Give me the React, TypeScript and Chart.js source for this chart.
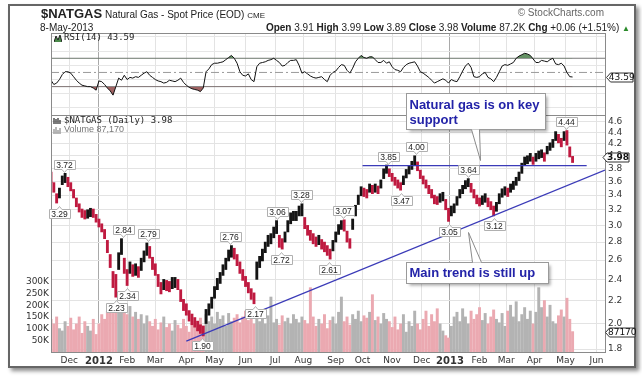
import React, { useEffect, useRef } from "react";
import { Chart, registerables } from "chart.js";

Chart.register(...registerables);

// ---------- X axis: trading-day index (0 = 1 Dec 2011) ----------
const FIRST_DAY = -13;
const DAY_STEP = 2;
const X_MIN = -13;
const X_MAX = 380;
const monthIdx = [0, 21, 41, 61, 83, 103, 125, 146, 166, 189, 208, 229, 250, 270, 291, 310, 330, 352, 374];
const monthLabels = ["Dec", "2012", "Feb", "Mar", "Apr", "May", "Jun", "Jul", "Aug", "Sep", "Oct", "Nov", "Dec", "2013", "Feb", "Mar", "Apr", "May", "Jun"];
const yearIdx = [21, 270];

// ---------- Y axes ----------
const priceTicks = [1.8, 2.0, 2.2, 2.4, 2.6, 2.8, 3.0, 3.2, 3.4, 3.6, 3.8, 4.0, 4.2, 4.4, 4.6];
const PRICE_MIN = 1.778;
const PRICE_MAX = 4.734;
const volTicks = [50000, 100000, 150000, 200000, 250000, 300000];
const VOL_MAX = 1013000;
const rsiGrid = [0, 10, 20, 30, 40, 50, 60, 70, 80, 90, 100];
const rsiLabelled = [10, 30, 50, 70, 90];
const RSI_MIN = -10;
const RSI_MAX = 105.6;

// ---------- Price bars [low, high], one per 2 trading days ----------
const priceBars = [
  [3.58, 3.74], [3.44, 3.58], [3.29, 3.42], [3.36, 3.50], [3.55, 3.68], [3.58, 3.72], [3.52, 3.66], [3.46, 3.58], [3.36, 3.48], [3.24, 3.36],
  [3.17, 3.28], [3.10, 3.21], [3.08, 3.19], [3.09, 3.20], [3.11, 3.22], [3.10, 3.21], [3.04, 3.14], [2.98, 3.08], [2.92, 3.02], [2.84, 2.95],
  [2.68, 2.82], [2.52, 2.66], [2.32, 2.48], [2.23, 2.45], [2.50, 2.68], [2.66, 2.84], [2.46, 2.62], [2.34, 2.50], [2.46, 2.58], [2.43, 2.55],
  [2.44, 2.56], [2.42, 2.53], [2.49, 2.62], [2.58, 2.70], [2.65, 2.79], [2.62, 2.75], [2.50, 2.63], [2.44, 2.56], [2.33, 2.45], [2.26, 2.37],
  [2.30, 2.40], [2.29, 2.39], [2.28, 2.38], [2.31, 2.42], [2.32, 2.42], [2.30, 2.40], [2.19, 2.30], [2.11, 2.21], [2.07, 2.17], [2.02, 2.11],
  [1.99, 2.08], [1.97, 2.05], [1.94, 2.02], [1.92, 1.99], [1.90, 1.98], [2.00, 2.12], [2.07, 2.17], [2.13, 2.23], [2.22, 2.33], [2.30, 2.41],
  [2.36, 2.47], [2.44, 2.55], [2.50, 2.62], [2.59, 2.71], [2.63, 2.76], [2.61, 2.73], [2.54, 2.66], [2.46, 2.58], [2.39, 2.50], [2.33, 2.43],
  [2.27, 2.37], [2.21, 2.31], [2.17, 2.27], [2.40, 2.58], [2.52, 2.64], [2.59, 2.72], [2.68, 2.80], [2.75, 2.88], [2.78, 2.90], [2.85, 2.98],
  [2.90, 3.06], [2.74, 2.88], [2.72, 2.84], [2.80, 2.92], [2.92, 3.06], [3.02, 3.16], [3.06, 3.18], [3.06, 3.18], [3.12, 3.25], [3.12, 3.28],
  [2.96, 3.10], [2.88, 3.00], [2.82, 2.94], [2.78, 2.90], [2.75, 2.86], [2.77, 2.88], [2.72, 2.83], [2.69, 2.80], [2.65, 2.76], [2.61, 2.72],
  [2.70, 2.82], [2.80, 2.92], [2.89, 3.01], [2.95, 3.06], [2.93, 3.07], [2.80, 2.93], [2.73, 2.84], [2.95, 3.08], [3.12, 3.26], [3.27, 3.40],
  [3.39, 3.52], [3.38, 3.50], [3.36, 3.48], [3.44, 3.56], [3.42, 3.54], [3.44, 3.56], [3.42, 3.53], [3.50, 3.62], [3.64, 3.79], [3.72, 3.85],
  [3.67, 3.79], [3.60, 3.72], [3.54, 3.66], [3.50, 3.62], [3.47, 3.58], [3.55, 3.68], [3.65, 3.78], [3.71, 3.84], [3.78, 3.91], [3.84, 4.00],
  [3.76, 3.90], [3.64, 3.77], [3.56, 3.68], [3.50, 3.62], [3.42, 3.54], [3.36, 3.48], [3.28, 3.40], [3.27, 3.38], [3.30, 3.42], [3.32, 3.44],
  [3.20, 3.34], [3.05, 3.22], [3.12, 3.25], [3.16, 3.28], [3.26, 3.38], [3.36, 3.48], [3.42, 3.54], [3.49, 3.61], [3.52, 3.64], [3.44, 3.57],
  [3.36, 3.48], [3.28, 3.40], [3.25, 3.36], [3.27, 3.39], [3.30, 3.42], [3.24, 3.36], [3.20, 3.31], [3.12, 3.25], [3.18, 3.30], [3.28, 3.42],
  [3.37, 3.49], [3.40, 3.52], [3.38, 3.50], [3.44, 3.56], [3.48, 3.60], [3.54, 3.66], [3.61, 3.74], [3.72, 3.88], [3.84, 3.98], [3.87, 4.00],
  [3.91, 4.04], [3.86, 3.98], [3.91, 4.04], [3.95, 4.08], [3.97, 4.10], [3.91, 4.05], [4.03, 4.16], [4.09, 4.22], [4.14, 4.28], [4.26, 4.42],
  [4.22, 4.37], [4.15, 4.30], [4.26, 4.42], [4.18, 4.44], [3.98, 4.15], [3.89, 3.99],
];

// ---------- Volume (thousands), same 2-day grid ----------
const volumeK = [
  140, 120, 150, 100, 90, 130, 110, 145, 95, 120, 150, 80, 130, 110, 90, 140, 75,
  120, 160, 140, 175, 190, 165, 180, 200, 170, 185, 160, 195, 150, 170, 140, 160, 120, 155, 130,
  110, 140, 95, 125, 150, 105, 120, 90, 135, 115, 100, 140, 110, 85, 130, 120, 100, 145, 110,
  160, 130, 150, 120, 170, 140, 155, 110, 165, 130, 145, 160, 125, 150, 175, 135, 150, 120,
  170, 130, 150, 120, 155, 235, 125, 140, 115, 155, 130, 145, 120, 160, 140, 125, 150, 135, 120,
  275, 150, 110, 140, 120, 160, 100, 135, 150, 120, 170, 235, 130, 150, 115, 160, 140, 175, 130, 155, 145, 170, 245, 135, 150, 120, 165, 140, 130,
  105, 150, 95, 120, 160, 85, 130, 110, 175, 120, 95,
  140, 175, 110, 160, 130, 185, 120, 90, 70, 60,
  110, 150, 170, 130, 185, 150, 120, 175, 140, 160,
  190, 135, 165, 120, 150, 180, 140, 125, 165, 110,
  175, 200, 150, 215, 130, 160, 190, 140, 175, 120,
  170, 275, 190, 220, 150, 200, 130, 120, 155, 180, 150,
  230, 140, 87.17,
];

// ---------- RSI(14), same 2-day grid ----------
const rsi14 = [
  39, 33, 35, 40, 47, 51, 51, 49, 44, 39,
  35, 32, 31, 30, 30, 28, 25, 38, 37, 33,
  28, 24, 18, 30, 42, 39, 46, 40, 43, 42,
  44, 43, 46, 49, 51, 46, 43, 40, 38, 37,
  35, 36, 39, 38, 37, 39, 42, 36, 32, 29,
  27, 26, 25, 23, 28, 51, 55, 61, 63, 63,
  64, 65, 68, 71, 74, 70, 63, 51, 46, 45,
  48, 40, 37, 58, 63, 64, 65, 67, 68, 70,
  67, 64, 59, 60, 64, 67, 67, 68, 60, 49,
  51, 48, 45, 43, 42, 43, 44, 40, 37, 46,
  50, 52, 57, 61, 60, 53, 49, 56, 65, 70,
  74, 71, 70, 72, 72, 68, 64, 64, 67, 63,
  65, 58, 54, 53, 51, 57, 61, 63, 64, 65,
  59, 51, 49, 46, 43, 39, 35, 37, 39, 41,
  39, 35, 40, 38, 37, 44, 52, 59, 63, 57,
  44, 43, 44, 48, 50, 43, 41, 37, 43, 51,
  59, 61, 60, 62, 64, 70, 73, 75, 77, 76,
  74, 69, 64, 64, 67, 66, 65, 68, 70, 62,
  61, 63, 59, 50, 44, 43.59,
];

// ---------- Peak / trough labels ----------
const labelIdx = [-4, -7, 38, 56, 41, 33, 94, 114, 132, 147, 150, 164, 184, 194, 226, 246, 235, 283, 269, 301, 352];
const labelVal = [3.72, 3.29, 2.84, 2.79, 2.34, 2.23, 1.9, 2.76, 2.17, 3.06, 2.72, 3.28, 2.61, 3.07, 3.85, 4.0, 3.47, 3.64, 3.05, 3.12, 4.44];
const labelAbove = [true, false, true, true, false, false, false, true, false, true, false, true, false, true, true, true, false, true, false, false, true];

// ---------- Trend lines ----------
const supportIdx = [208, 367];
const supportVal = [3.84, 3.84];
const trendIdx = [83, 380];
const trendVal = [1.86, 3.77];

// ---------- Callouts ----------
const calloutTipIdx = [291, 283];
const calloutTipVal = [3.93, 2.92];
const calloutLines = [["Natural gas is on key", "support"], ["Main trend is still up"]];

// ---------- last values ----------
const lastClose = 3.98;
const lastVolume = 87170;
const lastRsi = 43.59;

// layout (pixel offsets from callout tip)
const calloutBoxes = [
  { l: -74, r: 65, t: -67, b: -31, bl: -9, br: -1, edge: "bottom", lineY: [12, 27] },
  { l: -62, r: 80, t: 30, b: 51, bl: 4, br: 13, edge: "top", lineY: [11] },
];

const dayX = priceBars.map((_, k) => FIRST_DAY + DAY_STEP * k);
const mids = priceBars.map((b) => (b[0] + b[1]) / 2);
const isUp = mids.map((m, k) => (k === 0 ? false : m >= mids[k - 1]));

const FONT = '"DejaVu Sans", sans-serif';
const SANS = '"Liberation Sans", Arial, sans-serif';

const monthGridColor = (c: any) =>
  c.tick && yearIdx.includes(c.tick.value) ? "#a9a9a9" : "#e3e3e3";

function drawRightTag(ctx: CanvasRenderingContext2D, tipX: number, right: number, y: number, text: string, bold: boolean) {
  const h = 9;
  y = Math.round(y) + 0.5;
  ctx.beginPath();
  ctx.moveTo(tipX, y);
  ctx.lineTo(tipX + 4, y - h / 2);
  ctx.lineTo(right, y - h / 2);
  ctx.lineTo(right, y + h / 2);
  ctx.lineTo(tipX + 4, y + h / 2);
  ctx.closePath();
  ctx.fillStyle = "#fff";
  ctx.fill();
  ctx.strokeStyle = "#333";
  ctx.lineWidth = 1;
  ctx.stroke();
  ctx.font = `${bold ? "bold " : ""}9px ${FONT}`;
  ctx.fillStyle = "#111";
  ctx.textAlign = "center";
  ctx.textBaseline = "middle";
  ctx.fillText(text, (tipX + 4 + right) / 2, y + 0.5);
}

const rsiDeco = {
  id: "rsiDeco",
  afterDraw(chart: any) {
    const { ctx, chartArea: a, scales } = chart;
    ctx.save();
    ctx.strokeStyle = "#8a8a8a";
    ctx.lineWidth = 1;
    ctx.strokeRect(Math.round(a.left) + 0.5, Math.round(a.top) + 0.5, Math.round(a.right - a.left), Math.round(a.bottom - a.top));
    drawRightTag(ctx, a.right + 1.5, a.right + 28, scales.y.getPixelForValue(lastRsi), lastRsi.toFixed(2), false);
    ctx.restore();
  },
};

const priceDeco = {
  id: "priceDeco",
  afterDraw(chart: any) {
    const { ctx, chartArea: a, scales } = chart;
    const xs = scales.x;
    const ys = scales.y;
    ctx.save();
    ctx.strokeStyle = "#8a8a8a";
    ctx.lineWidth = 1;
    ctx.strokeRect(Math.round(a.left) + 0.5, Math.round(a.top) + 0.5, Math.round(a.right - a.left), Math.round(a.bottom - a.top));

    // peak / trough labels
    ctx.font = `8.5px ${SANS}`;
    labelIdx.forEach((idx, i) => {
      const px = Math.round(xs.getPixelForValue(idx)) + 0.5;
      const py = ys.getPixelForValue(labelVal[i]);
      const text = labelVal[i].toFixed(2);
      const w = Math.round(ctx.measureText(text).width + 4);
      const h = 9;
      const above = labelAbove[i];
      const cy = above ? py - 9 : py + 10;
      const left = Math.round(px - w / 2) + 0.5;
      const top = Math.round(cy - h / 2) + 0.5;
      ctx.beginPath();
      if (above) {
        ctx.moveTo(left, top);
        ctx.lineTo(left + w, top);
        ctx.lineTo(left + w, top + h);
        ctx.lineTo(px + 2.5, top + h);
        ctx.lineTo(px, top + h + 3);
        ctx.lineTo(px - 2.5, top + h);
        ctx.lineTo(left, top + h);
      } else {
        ctx.moveTo(left, top);
        ctx.lineTo(px - 2.5, top);
        ctx.lineTo(px, top - 3);
        ctx.lineTo(px + 2.5, top);
        ctx.lineTo(left + w, top);
        ctx.lineTo(left + w, top + h);
        ctx.lineTo(left, top + h);
      }
      ctx.closePath();
      ctx.fillStyle = "#fff";
      ctx.fill();
      ctx.strokeStyle = "#b0b0b0";
      ctx.stroke();
      ctx.fillStyle = "#222";
      ctx.textAlign = "center";
      ctx.textBaseline = "middle";
      ctx.fillText(text, px, top + h / 2 + 0.5);
    });

    // callouts
    calloutTipIdx.forEach((idx, i) => {
      const tx = Math.round(xs.getPixelForValue(idx));
      const ty = Math.round(ys.getPixelForValue(calloutTipVal[i]));
      const b = calloutBoxes[i];
      const l = tx + b.l + 0.5, r = tx + b.r + 0.5, t = ty + b.t + 0.5, bt = ty + b.b + 0.5;
      ctx.save();
      ctx.shadowColor = "rgba(0,0,0,0.35)";
      ctx.shadowBlur = 3;
      ctx.shadowOffsetX = 2;
      ctx.shadowOffsetY = 2;
      ctx.fillStyle = "#fff";
      ctx.fillRect(l, t, r - l, bt - t);
      ctx.restore();
      ctx.strokeStyle = "#9a9a9a";
      ctx.lineWidth = 1;
      ctx.strokeRect(l, t, r - l, bt - t);
      const edgeY = b.edge === "bottom" ? bt : t;
      const x1 = tx + b.bl + 0.5, x2 = tx + b.br + 0.5;
      ctx.beginPath();
      ctx.moveTo(x1, edgeY);
      ctx.lineTo(tx + 0.5, ty + 0.5);
      ctx.lineTo(x2, edgeY);
      ctx.closePath();
      ctx.fillStyle = "#fff";
      ctx.fill();
      ctx.beginPath();
      ctx.moveTo(x1, edgeY);
      ctx.lineTo(tx + 0.5, ty + 0.5);
      ctx.lineTo(x2, edgeY);
      ctx.strokeStyle = "#8a8a8a";
      ctx.stroke();
      ctx.font = `bold 13px ${SANS}`;
      ctx.fillStyle = "#2323a8";
      ctx.textAlign = "left";
      ctx.textBaseline = "middle";
      calloutLines[i].forEach((line, j) => ctx.fillText(line, l + 3, t + b.lineY[j]));
    });

    // last value tags
    drawRightTag(ctx, a.right - 2, a.right + 24, ys.getPixelForValue(lastClose), lastClose.toFixed(2), true);
    drawRightTag(ctx, a.right + 0.5, a.right + 30, scales.vol.getPixelForValue(lastVolume), String(lastVolume), false);
    ctx.restore();
  },
};

function xAxis(showLabels: boolean): any {
  return {
    type: "linear",
    min: X_MIN,
    max: X_MAX,
    offset: false,
    afterBuildTicks: (s: any) => {
      s.ticks = monthIdx.map((v) => ({ value: v }));
    },
    afterFit: (s: any) => {
      s.height = showLabels ? 26 : 0;
    },
    ticks: {
      display: showLabels,
      autoSkip: false,
      maxRotation: 0,
      padding: 3,
      color: "#333",
      callback: (_v: any, i: number) => monthLabels[i],
      font: (c: any) => {
        const yr = c.tick && yearIdx.includes(c.tick.value);
        return { family: FONT, size: yr ? 10 : 9, weight: yr ? "bold" : "normal" };
      },
    },
    grid: { color: monthGridColor, drawTicks: false, offset: false },
    border: { display: false },
  };
}

export default function App() {
  const rsiRef = useRef<HTMLCanvasElement>(null);
  const priceRef = useRef<HTMLCanvasElement>(null);

  useEffect(() => {
    const rsiData = rsi14.map((v, k) => ({ x: dayX[k], y: v }));
    const flat = (v: number) => [{ x: X_MIN, y: v }, { x: X_MAX, y: v }];
    const rsiChart = new Chart(rsiRef.current as HTMLCanvasElement, {
      type: "line",
      data: {
        datasets: [
          { data: rsiData, borderColor: "#111", borderWidth: 1, pointRadius: 0, fill: { target: { value: 70 }, above: "rgba(84,134,84,0.9)", below: "rgba(0,0,0,0)" }, order: 0 },
          { data: rsiData, borderColor: "rgba(0,0,0,0)", borderWidth: 0, pointRadius: 0, fill: { target: { value: 30 }, above: "rgba(0,0,0,0)", below: "rgba(150,82,82,0.9)" }, order: 1 },
          { data: flat(70), borderColor: "#7a7a7a", borderWidth: 1, pointRadius: 0, fill: false, order: 2 },
          { data: flat(30), borderColor: "#7a7a7a", borderWidth: 1, pointRadius: 0, fill: false, order: 2 },
          { data: flat(50), borderColor: "#999", borderWidth: 1, borderDash: [8, 3, 2, 3], pointRadius: 0, fill: false, order: 2 },
        ],
      } as any,
      options: {
        animation: false,
        responsive: false,
        maintainAspectRatio: false,
        layout: { padding: { left: 51, top: 33, right: 0, bottom: 378 - 115 } },
        plugins: { legend: { display: false }, tooltip: { enabled: false } },
        scales: {
          x: xAxis(false),
          y: {
            position: "right",
            min: RSI_MIN,
            max: RSI_MAX,
            afterBuildTicks: (s: any) => {
              s.ticks = rsiGrid.map((v) => ({ value: v }));
            },
            afterFit: (s: any) => {
              s.width = 37;
            },
            ticks: {
              padding: 3,
              color: "#333",
              font: { family: FONT, size: 9 },
              callback: (v: any) => (rsiLabelled.includes(v) ? String(v) : ""),
            },
            grid: { color: "#e6e6e6", drawTicks: false },
            border: { display: false },
          },
        },
      } as any,
      plugins: [rsiDeco],
    });

    const priceChart = new Chart(priceRef.current as HTMLCanvasElement, {
      type: "bar",
      data: {
        datasets: [
          {
            type: "line",
            data: supportIdx.map((x, i) => ({ x, y: supportVal[i] })),
            borderColor: "#3b3bb8",
            borderWidth: 1.3,
            pointRadius: 0,
            yAxisID: "y",
            order: 0,
          },
          {
            type: "line",
            data: trendIdx.map((x, i) => ({ x, y: trendVal[i] })),
            borderColor: "#3b3bb8",
            borderWidth: 1.3,
            pointRadius: 0,
            yAxisID: "y",
            order: 0,
          },
          {
            type: "bar",
            data: priceBars.map((b, k) => ({ x: dayX[k], y: b })),
            backgroundColor: isUp.map((u) => (u ? "#141414" : "#bf1a40")),
            barThickness: 2.2,
            grouped: false,
            yAxisID: "y",
            order: 1,
          },
          {
            type: "bar",
            data: volumeK.map((v, k) => ({ x: dayX[k], y: v * 1000 })),
            backgroundColor: isUp.map((u) => (u ? "#b3b3b3" : "#eba9b1")),
            barThickness: 2.3,
            grouped: false,
            yAxisID: "vol",
            order: 2,
          },
        ],
      } as any,
      options: {
        animation: false,
        responsive: false,
        maintainAspectRatio: false,
        layout: { padding: { left: 0, top: 115, right: 0, bottom: 0 } },
        plugins: { legend: { display: false }, tooltip: { enabled: false } },
        scales: {
          x: xAxis(true),
          y: {
            type: "logarithmic",
            position: "right",
            min: PRICE_MIN,
            max: PRICE_MAX,
            afterBuildTicks: (s: any) => {
              s.ticks = priceTicks.map((v) => ({ value: v }));
            },
            afterFit: (s: any) => {
              s.width = 37;
            },
            ticks: {
              padding: 3,
              color: "#333",
              font: { family: FONT, size: 9 },
              callback: (v: any) => Number(v).toFixed(1),
            },
            grid: { color: "#e3e3e3", drawTicks: false },
            border: { display: false },
          },
          vol: {
            type: "linear",
            position: "left",
            min: 0,
            max: VOL_MAX,
            afterBuildTicks: (s: any) => {
              s.ticks = volTicks.map((v) => ({ value: v }));
            },
            afterFit: (s: any) => {
              s.width = 51;
            },
            ticks: {
              padding: 2,
              color: "#333",
              font: { family: FONT, size: 9 },
              callback: (v: any) => `${Number(v) / 1000}K`,
            },
            grid: { display: false, drawTicks: false },
            border: { display: false },
          },
        },
      } as any,
      plugins: [priceDeco],
    });

    return () => {
      rsiChart.destroy();
      priceChart.destroy();
    };
  }, []);

  const abs = (s: React.CSSProperties): React.CSSProperties => ({ position: "absolute", whiteSpace: "nowrap", lineHeight: 1, ...s });

  return (
    <div style={{ position: "absolute", left: 0, top: 0, width: 642, height: 378, background: "#fff", overflow: "hidden", fontFamily: SANS, color: "#222" }}>
      <div style={{ position: "absolute", left: 8, top: 4, width: 624, height: 360, border: "2px solid #666", boxShadow: "3px 3px 4px rgba(0,0,0,0.45)", background: "#fff" }} />
      <canvas ref={rsiRef} width={642} height={378} style={{ position: "absolute", left: 0, top: 0 }} />
      <canvas ref={priceRef} width={642} height={378} style={{ position: "absolute", left: 0, top: 0 }} />

      <div style={abs({ left: 41, top: 5 })}>
        <b style={{ fontSize: 13 }}>$NATGAS</b>
        <span style={{ fontSize: 10 }}> Natural Gas - Spot Price (EOD) </span>
        <span style={{ fontSize: 8 }}>CME</span>
      </div>
      <div style={abs({ right: 38, top: 8, fontSize: 10, color: "#666" })}>© StockCharts.com</div>
      <div style={abs({ left: 40, top: 23, fontSize: 10 })}>8-May-2013</div>
      <div style={abs({ right: 12, top: 23, fontSize: 10 })}>
        <b>Open</b> 3.91 <b>High</b> 3.99 <b>Low</b> 3.89 <b>Close</b> 3.98 <b>Volume</b> 87.2K <b>Chg</b> +0.06 (+1.51%) <span style={{ color: "#2a8a2a", fontSize: 8 }}>▲</span>
      </div>

      <div style={abs({ left: 54, top: 33, fontSize: 9, fontFamily: '"DejaVu Sans Mono", monospace', display: "flex", alignItems: "center", gap: 2 })}>
        <svg width="8" height="8" viewBox="0 0 8 8"><polyline points="0,8 2,2 4,6 6,1 8,8" fill="#4a8a4a" stroke="#222" strokeWidth="1" /></svg>
        <span>RSI(14) 43.59</span>
      </div>
      <div style={abs({ left: 53, top: 116, fontSize: 9, fontFamily: '"DejaVu Sans Mono", monospace', display: "flex", alignItems: "center", gap: 2 })}>
        <svg width="9" height="8" viewBox="0 0 9 8"><path d="M1 1v6M3 2v5M5 1v6M7 3v4" stroke="#222" strokeWidth="1.2" /></svg>
        <span>$NATGAS (Daily) 3.98</span>
      </div>
      <div style={abs({ left: 53, top: 125, fontSize: 9, color: "#777", display: "flex", alignItems: "center", gap: 2 })}>
        <svg width="9" height="8" viewBox="0 0 9 8"><path d="M1 3v5M3 1v7M5 4v4M7 2v6" stroke="#999" strokeWidth="1.4" /></svg>
        <span>Volume 87,170</span>
      </div>
    </div>
  );
}
